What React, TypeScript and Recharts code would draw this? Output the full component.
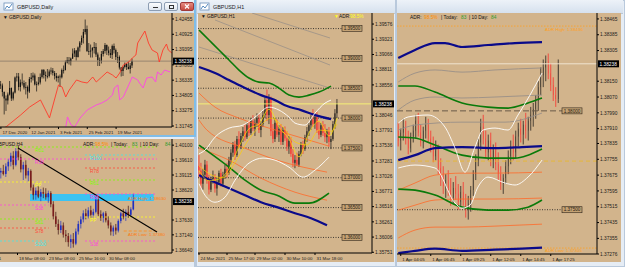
import React from 'react';
import { ComposedChart, Bar, Line, XAxis, YAxis, ReferenceLine, ReferenceDot, ReferenceArea } from 'recharts';

const TAN = '#D2B48C';
const FONT = '"Liberation Sans", Arial, sans-serif';
const LAST = 1.38238;
const LAST_TXT = '1.38238';

// ---------- GBPUSD Daily ----------
const dailyDateIdx = [0, 16, 32, 48, 64];
const dailyDates = ['17 Dec 2020', '12 Jan 2021', '3 Feb 2021', '25 Feb 2021', '19 Mar 2021'];
const dailyPrices = [1.42455, 1.40925, 1.39395, 1.37865, 1.36335, 1.34805, 1.33275, 1.31745];
const dailyOhlc = [
  [1.359, 1.3625, 1.3545, 1.358], [1.358, 1.36, 1.347, 1.3515], [1.3515, 1.352, 1.329, 1.345], [1.345, 1.348, 1.3325, 1.343],
  [1.343, 1.351, 1.339, 1.349], [1.349, 1.3625, 1.348, 1.3555], [1.3555, 1.356, 1.3425, 1.345], [1.345, 1.352, 1.343, 1.351],
  [1.351, 1.367, 1.35, 1.366], [1.366, 1.3705, 1.362, 1.367], [1.367, 1.3705, 1.353, 1.3565], [1.3565, 1.364, 1.352, 1.361],
  [1.361, 1.37, 1.358, 1.3605], [1.3605, 1.363, 1.354, 1.356], [1.356, 1.3615, 1.349, 1.3565], [1.3565, 1.358, 1.345, 1.352],
  [1.352, 1.3665, 1.3505, 1.3645], [1.3645, 1.3705, 1.361, 1.366], [1.366, 1.371, 1.363, 1.368], [1.368, 1.37, 1.358, 1.359],
  [1.359, 1.362, 1.352, 1.3595], [1.3595, 1.3665, 1.358, 1.361], [1.361, 1.37, 1.359, 1.3665], [1.3665, 1.3745, 1.365, 1.3735],
  [1.3735, 1.3745, 1.365, 1.3685], [1.3685, 1.372, 1.362, 1.3675], [1.3675, 1.3745, 1.365, 1.3675], [1.3675, 1.374, 1.366, 1.372],
  [1.372, 1.376, 1.369, 1.373], [1.373, 1.3755, 1.368, 1.3705], [1.3705, 1.3725, 1.364, 1.3675], [1.3675, 1.3705, 1.362, 1.3655],
  [1.3655, 1.368, 1.361, 1.367], [1.367, 1.369, 1.3565, 1.3662], [1.3662, 1.375, 1.365, 1.3735], [1.3735, 1.378, 1.37, 1.3735],
  [1.3735, 1.383, 1.373, 1.381], [1.381, 1.3865, 1.38, 1.3835], [1.3835, 1.3865, 1.379, 1.382], [1.382, 1.386, 1.378, 1.385],
  [1.385, 1.395, 1.3845, 1.39], [1.39, 1.3955, 1.3865, 1.393], [1.393, 1.3935, 1.383, 1.3865], [1.3865, 1.397, 1.386, 1.396],
  [1.396, 1.4025, 1.392, 1.401], [1.401, 1.408, 1.3985, 1.4055], [1.4055, 1.4145, 1.4, 1.4115], [1.4115, 1.424, 1.409, 1.4145],
  [1.4145, 1.418, 1.3915, 1.3925], [1.3925, 1.4005, 1.3885, 1.392], [1.392, 1.399, 1.386, 1.393], [1.393, 1.3965, 1.386, 1.3955],
  [1.3955, 1.4015, 1.39, 1.3965], [1.3965, 1.4005, 1.3865, 1.389], [1.389, 1.391, 1.3775, 1.3835], [1.3835, 1.386, 1.3775, 1.383],
  [1.383, 1.3925, 1.38, 1.3895], [1.3895, 1.3945, 1.387, 1.3925], [1.3925, 1.4005, 1.39, 1.3985], [1.3985, 1.399, 1.3885, 1.393],
  [1.393, 1.397, 1.388, 1.3905], [1.3905, 1.3945, 1.3855, 1.3885], [1.3885, 1.399, 1.3845, 1.3975], [1.3975, 1.4, 1.39, 1.3935],
  [1.3935, 1.395, 1.3835, 1.3865], [1.3865, 1.3915, 1.3805, 1.3865], [1.3865, 1.388, 1.374, 1.376], [1.376, 1.3765, 1.367, 1.3725],
  [1.3725, 1.3775, 1.3675, 1.3765], [1.3765, 1.381, 1.375, 1.3795], [1.3795, 1.3805, 1.3735, 1.3765], [1.3765, 1.382, 1.374, 1.3745],
  [1.3745, 1.3805, 1.37, 1.378], [1.378, 1.385, 1.3755, 1.3825],
];
const dailyRed = [
  [0, 1.314], [3, 1.3168], [11, 1.3285], [16, 1.3365], [22, 1.3435], [27, 1.3255], [32, 1.3585], [34, 1.3565], [36, 1.3465],
  [38, 1.3535], [42, 1.3635], [45, 1.3615], [48, 1.3605], [51, 1.3665], [53, 1.3615], [56, 1.3665], [59, 1.3715], [62, 1.3685],
  [64, 1.3655], [66, 1.3705], [68, 1.3785], [71, 1.3815], [73, 1.3855], [75, 1.3885], [76, 1.4005], [78, 1.4065], [80, 1.4125],
  [82, 1.4005], [84, 1.3935], [87, 1.3905], [88, 1.3815], [90, 1.3935], [92, 1.3995], [93, 1.3935], [95, 1.3905],
];
const dailyPink = [
  [36, 1.316], [37, 1.3265], [39, 1.3185], [41, 1.3165], [44, 1.3255], [48, 1.3335], [51, 1.3365], [53, 1.3385], [56, 1.3405],
  [59, 1.3435], [62, 1.3485], [63, 1.3555], [65, 1.3585], [66, 1.3435], [68, 1.3465], [71, 1.3585], [73, 1.3665], [76, 1.3635],
  [77, 1.3605], [79, 1.3555], [81, 1.3655], [84, 1.3665], [86, 1.3615], [87, 1.3715], [89, 1.3685], [91, 1.3735], [94, 1.3715],
];

// ---------- GBPUSD H4 ----------
const h4DateIdx = [-10.5, 6.5, 18.5, 30.5, 42.5];
const h4Dates = ['17 Mar 2021', '18 Mar 08:00', '23 Mar 08:00', '25 Mar 16:00', '30 Mar 08:00'];
const h4Prices = [1.401, 1.3961, 1.39115, 1.3862, 1.3763, 1.3714, 1.3664];
const h4Ohlc = [
  [1.392, 1.3935, 1.39, 1.3925], [1.3925, 1.3945, 1.391, 1.3915], [1.3915, 1.395, 1.3905, 1.394], [1.394, 1.3965, 1.3925, 1.3955],
  [1.3955, 1.3985, 1.394, 1.3975], [1.3975, 1.399, 1.393, 1.3945], [1.3945, 1.4, 1.394, 1.399], [1.399, 1.401, 1.396, 1.397],
  [1.397, 1.398, 1.392, 1.393], [1.393, 1.3955, 1.3895, 1.3945], [1.3945, 1.396, 1.39, 1.391], [1.391, 1.3935, 1.389, 1.3925],
  [1.3925, 1.393, 1.386, 1.387], [1.387, 1.388, 1.383, 1.3845], [1.3845, 1.387, 1.383, 1.386], [1.386, 1.3875, 1.3835, 1.384],
  [1.384, 1.3865, 1.3825, 1.3855], [1.3855, 1.387, 1.3835, 1.385], [1.385, 1.3868, 1.383, 1.3838], [1.3838, 1.386, 1.382, 1.3852],
  [1.3852, 1.3858, 1.3805, 1.3815], [1.3815, 1.3825, 1.3765, 1.3775], [1.3775, 1.379, 1.374, 1.375], [1.375, 1.3765, 1.3715, 1.373],
  [1.373, 1.376, 1.372, 1.3745], [1.3745, 1.3755, 1.3705, 1.3715], [1.3715, 1.373, 1.369, 1.371], [1.371, 1.372, 1.3675, 1.369],
  [1.369, 1.3715, 1.367, 1.37], [1.37, 1.372, 1.3672, 1.3685], [1.3685, 1.3735, 1.368, 1.3725], [1.3725, 1.376, 1.3715, 1.375],
  [1.375, 1.3775, 1.3735, 1.3765], [1.3765, 1.3795, 1.3755, 1.3785], [1.3785, 1.38, 1.3765, 1.3775], [1.3775, 1.3805, 1.3768, 1.3795],
  [1.3795, 1.381, 1.377, 1.378], [1.378, 1.38, 1.377, 1.379], [1.379, 1.3845, 1.3785, 1.383], [1.383, 1.3838, 1.3775, 1.3782],
  [1.3782, 1.3795, 1.376, 1.377], [1.377, 1.379, 1.3755, 1.3785], [1.3785, 1.3792, 1.3755, 1.3762], [1.3762, 1.3775, 1.3735, 1.3745],
  [1.3745, 1.3755, 1.3712, 1.3725], [1.3725, 1.3745, 1.371, 1.3738], [1.3738, 1.375, 1.3715, 1.3728], [1.3728, 1.3765, 1.3722, 1.376],
  [1.376, 1.379, 1.3752, 1.3785], [1.3785, 1.38, 1.3765, 1.3772], [1.3772, 1.3798, 1.376, 1.379], [1.379, 1.381, 1.377, 1.378],
  [1.378, 1.3805, 1.3772, 1.3798], [1.3798, 1.385, 1.3795, 1.3826],
];
const h4LeftNames = ['R61', 'R38', 'PP', 'S38', 'S61', 'S78', 'S100'];
const h4LeftLevels = [1.40039, 1.39643, 1.38884, 1.38125, 1.37663, 1.37366, 1.36937];
const h4MidNames = ['R100', 'R78', 'R61', 'R38', 'PP', 'S38'];
const h4MidLevels = [1.39775, 1.39346, 1.3895, 1.38488, 1.37729, 1.36937];
const h4Zone = [1.38257, 1.38488];
const h4Trend = [[6.7, 1.40006], [62.3, 1.37234]];
const h4AdrHigh = 1.38356;
const h4AdrLow = 1.37267;

// ---------- GBPUSD H1 ----------
const h1DateIdx = [0, 14, 28, 43, 58];
const h1Dates = ['24 Mar 2021', '25 Mar 17:00', '29 Mar 02:00', '30 Mar 10:00', '31 Mar 18:00'];
const h1Prices = [1.39576, 1.39321, 1.39066, 1.38811, 1.38556, 1.38046, 1.37791, 1.37536, 1.37281, 1.37026, 1.36771, 1.36516, 1.36261, 1.36006, 1.35751];
const h1Rounds = [1.395, 1.39, 1.385, 1.38, 1.375, 1.37, 1.365, 1.36];
const h1Ohlc = [
  [1.372, 1.3738, 1.37, 1.3712], [1.3712, 1.3725, 1.3682, 1.369], [1.369, 1.3715, 1.368, 1.3705], [1.3705, 1.373, 1.3698, 1.3722],
  [1.3722, 1.3728, 1.369, 1.3695], [1.3695, 1.3705, 1.3672, 1.368], [1.368, 1.3702, 1.3676, 1.3698], [1.3698, 1.3712, 1.369, 1.37],
  [1.37, 1.3706, 1.3675, 1.3682], [1.3682, 1.37, 1.367, 1.3692], [1.3692, 1.3712, 1.3688, 1.3708], [1.3708, 1.3715, 1.3685, 1.369],
  [1.369, 1.371, 1.3685, 1.3705], [1.3705, 1.3722, 1.3698, 1.3715], [1.3715, 1.3725, 1.37, 1.3708], [1.3708, 1.3735, 1.3705, 1.373],
  [1.373, 1.3748, 1.3722, 1.3742], [1.3742, 1.376, 1.3735, 1.3755], [1.3755, 1.3762, 1.373, 1.3738], [1.3738, 1.377, 1.3735, 1.3765],
  [1.3765, 1.3778, 1.375, 1.3752], [1.3752, 1.3775, 1.3748, 1.377], [1.377, 1.3785, 1.376, 1.3778], [1.3778, 1.379, 1.3762, 1.3768],
  [1.3768, 1.3792, 1.3765, 1.3788], [1.3788, 1.3795, 1.377, 1.3775], [1.3775, 1.38, 1.3772, 1.3795], [1.3795, 1.3805, 1.3778, 1.3782],
  [1.3782, 1.3798, 1.377, 1.3792], [1.3792, 1.3808, 1.3785, 1.38], [1.38, 1.3806, 1.3775, 1.378], [1.378, 1.3795, 1.3768, 1.379],
  [1.379, 1.3812, 1.3785, 1.3805], [1.3805, 1.3835, 1.38, 1.383], [1.383, 1.3848, 1.3795, 1.3805], [1.3805, 1.384, 1.379, 1.3832],
  [1.3832, 1.3836, 1.377, 1.3778], [1.3778, 1.379, 1.3758, 1.3765], [1.3765, 1.38, 1.376, 1.3792], [1.3792, 1.3798, 1.3768, 1.3772],
  [1.3772, 1.3788, 1.376, 1.3782], [1.3782, 1.379, 1.3755, 1.376], [1.376, 1.3785, 1.3755, 1.378], [1.378, 1.3786, 1.3762, 1.3766],
  [1.3766, 1.3778, 1.3745, 1.3752], [1.3752, 1.377, 1.374, 1.3762], [1.3762, 1.3768, 1.3735, 1.374], [1.374, 1.3748, 1.3718, 1.3725],
  [1.3725, 1.3738, 1.3716, 1.373], [1.373, 1.3742, 1.372, 1.3722], [1.3722, 1.3745, 1.3718, 1.374], [1.374, 1.376, 1.3736, 1.3755],
  [1.3755, 1.3762, 1.374, 1.3748], [1.3748, 1.3772, 1.3745, 1.3768], [1.3768, 1.3785, 1.376, 1.3778], [1.3778, 1.3792, 1.377, 1.3788],
  [1.3788, 1.3805, 1.378, 1.3798], [1.3798, 1.3815, 1.3785, 1.379], [1.379, 1.3808, 1.3782, 1.3802], [1.3802, 1.381, 1.3775, 1.378],
  [1.378, 1.3795, 1.3765, 1.3772], [1.3772, 1.3792, 1.3768, 1.3788], [1.3788, 1.3795, 1.377, 1.3775], [1.3775, 1.379, 1.376, 1.3768],
  [1.3768, 1.3782, 1.3758, 1.3778], [1.3778, 1.3785, 1.3752, 1.376], [1.376, 1.377, 1.3748, 1.3765], [1.3765, 1.3795, 1.3762, 1.379],
  [1.379, 1.3815, 1.3782, 1.3808], [1.3808, 1.3832, 1.38, 1.3824],
];
const h1GreenTop = [[0, 1.39476], [5, 1.39308], [10, 1.3914], [15, 1.38973], [20, 1.38805], [25, 1.38671], [30, 1.38603], [35, 1.38587], [40, 1.38503], [45, 1.38385], [50, 1.38352], [55, 1.38385], [60, 1.38436], [66, 1.38536]];
const h1NavyTop = [[0, 1.38855], [8, 1.38754], [15, 1.38637], [23, 1.38503], [31, 1.38385], [38, 1.38301], [44, 1.38201], [51, 1.38134], [58, 1.3805], [66, 1.37983]];
const h1NavyLow = [[0, 1.37043], [8, 1.36926], [15, 1.36825], [23, 1.36708], [31, 1.3659], [39, 1.36507], [48, 1.36406], [56, 1.36322], [64, 1.36205]];
const h1GreenLow = [[0, 1.37547], [7, 1.37379], [15, 1.37178], [23, 1.36959], [31, 1.36792], [39, 1.36708], [48, 1.36574], [55, 1.36574], [65, 1.36741]];
const h1OrangeA = [[0, 1.38419], [8, 1.38184], [20, 1.37999], [35, 1.37832], [50, 1.37681], [65, 1.3753]];
const h1OrangeB = [[0, 1.37966], [4, 1.37798], [23, 1.37496], [39, 1.37295], [64, 1.37094]];
const h1OrangeC = [[0, 1.37496], [15, 1.37295], [31, 1.36993], [48, 1.36758], [64, 1.36624]];
const h1Grey1 = [[26.5, 1.39761], [65.5, 1.39342]];
const h1Grey2 = [[8, 1.39644], [65.5, 1.38889]];
const h1Grey3 = [[0, 1.39191], [65.5, 1.38503]];
const h1BandUp = [[0, 1.374], [3, 1.37463], [8, 1.37681], [15, 1.37832], [22, 1.37882], [28, 1.38016], [35, 1.38184], [40, 1.38134], [45, 1.38016], [48, 1.37916], [53, 1.37882], [58, 1.38083], [63, 1.38251], [66, 1.38301]];
const h1BandLow = [[0, 1.369], [3, 1.36708], [8, 1.3659], [13, 1.36674], [18, 1.36959], [25, 1.37245], [32, 1.37329], [38, 1.37295], [45, 1.37178], [52, 1.3701], [58, 1.37128], [65, 1.37345]];
const h1Fast = [[0, 1.3712], [5, 1.3695], [10, 1.3698], [15, 1.3715], [20, 1.3752], [25, 1.3782], [30, 1.379], [35, 1.3815], [40, 1.3785], [45, 1.3765], [50, 1.3735], [55, 1.3775], [60, 1.3795], [65, 1.377], [69, 1.38]];
const h1Slow = [[0, 1.372], [6, 1.3705], [12, 1.37], [18, 1.3725], [24, 1.376], [30, 1.3785], [36, 1.38], [42, 1.3785], [48, 1.376], [54, 1.3755], [60, 1.378], [66, 1.3778], [69, 1.379]];

// ---------- GBPUSD M5 (right window) ----------
const m5DateIdx = [1, 13, 25, 37, 49, 61];
const m5Dates = ['1 Apr 04:05', '1 Apr 06:45', '1 Apr 09:25', '1 Apr 12:05', '1 Apr 14:45', '1 Apr 17:25'];
const m5Prices = [1.38465, 1.38385, 1.38305, 1.3815, 1.3807, 1.3799, 1.3791, 1.37835, 1.37755, 1.37675, 1.37595, 1.37515, 1.37435, 1.37355, 1.37276];
const m5Ohlc = [
  [1.379, 1.3794, 1.3782, 1.3785], [1.3785, 1.3791, 1.378, 1.3789], [1.3789, 1.3796, 1.3785, 1.3792], [1.3792, 1.3795, 1.3783, 1.3786],
  [1.3786, 1.379, 1.3778, 1.3781], [1.3781, 1.3789, 1.3779, 1.3787], [1.3787, 1.3793, 1.3784, 1.379], [1.379, 1.3798, 1.3786, 1.3795],
  [1.3795, 1.3799, 1.3787, 1.3789], [1.3789, 1.3793, 1.3782, 1.3784], [1.3784, 1.3792, 1.3781, 1.379], [1.379, 1.3797, 1.3786, 1.3793],
  [1.3793, 1.3796, 1.3784, 1.3786], [1.3786, 1.379, 1.3779, 1.3782], [1.3782, 1.3787, 1.3774, 1.3777], [1.3777, 1.3785, 1.3775, 1.378],
  [1.378, 1.3783, 1.3768, 1.3771], [1.3771, 1.3776, 1.3762, 1.3766], [1.3766, 1.3772, 1.3758, 1.3762], [1.3762, 1.3768, 1.3756, 1.3765],
  [1.3765, 1.377, 1.3757, 1.376], [1.376, 1.3766, 1.3752, 1.3756], [1.3756, 1.3764, 1.3753, 1.3761], [1.3761, 1.3767, 1.3755, 1.3758],
  [1.3758, 1.3763, 1.375, 1.3754], [1.3754, 1.3762, 1.3751, 1.3759], [1.3759, 1.3764, 1.3752, 1.3755], [1.3755, 1.3758, 1.3746, 1.375],
  [1.375, 1.3757, 1.3745, 1.3753], [1.3753, 1.3762, 1.3749, 1.376], [1.376, 1.377, 1.3757, 1.3768], [1.3768, 1.3778, 1.3765, 1.3775],
  [1.3775, 1.3786, 1.3772, 1.3784], [1.3784, 1.3796, 1.378, 1.3792], [1.3792, 1.3798, 1.3783, 1.3786], [1.3786, 1.379, 1.3776, 1.3779],
  [1.3779, 1.3788, 1.3775, 1.3785], [1.3785, 1.3789, 1.3772, 1.3775], [1.3775, 1.3783, 1.3771, 1.378], [1.378, 1.3784, 1.377, 1.3773],
  [1.3773, 1.3779, 1.3765, 1.3768], [1.3768, 1.3772, 1.376, 1.3763], [1.3763, 1.3768, 1.3758, 1.3766], [1.3766, 1.3775, 1.3763, 1.3772],
  [1.3772, 1.378, 1.3768, 1.3777], [1.3777, 1.3785, 1.3773, 1.3782], [1.3782, 1.3788, 1.3775, 1.3779], [1.3779, 1.379, 1.3776, 1.3787],
  [1.3787, 1.3794, 1.3782, 1.3791], [1.3791, 1.3796, 1.3784, 1.3788], [1.3788, 1.3795, 1.3783, 1.3793], [1.3793, 1.3799, 1.3786, 1.379],
  [1.379, 1.3797, 1.3785, 1.3795], [1.3795, 1.3802, 1.379, 1.3798], [1.3798, 1.3804, 1.3792, 1.3801], [1.3801, 1.3808, 1.3796, 1.3805],
  [1.3805, 1.3815, 1.38, 1.3812], [1.3812, 1.3822, 1.3808, 1.3818], [1.3818, 1.3826, 1.3812, 1.3822], [1.3822, 1.3828, 1.3815, 1.3825],
  [1.3825, 1.3829, 1.3816, 1.3819], [1.3819, 1.3824, 1.381, 1.3813], [1.3813, 1.3817, 1.3805, 1.3808], [1.3808, 1.3812, 1.3802, 1.3806],
  [1.3806, 1.3826, 1.3804, 1.3824],
];
const m5NavyTop = [[0, 1.38267], [6.7, 1.38308], [14.7, 1.38343], [18.7, 1.38343], [25.5, 1.38323], [35.9, 1.38333], [46.7, 1.38343], [57.5, 1.38348]];
const m5GreyA = [[0, 1.38146], [6.7, 1.38191], [14.7, 1.38207], [25.5, 1.38196], [38.7, 1.38207], [57.5, 1.38217]];
const m5GreenTop = [[0, 1.38126], [6.7, 1.38126], [14.7, 1.38095], [25.5, 1.3804], [35.9, 1.38019], [43.9, 1.38014], [51.9, 1.3804], [57.5, 1.38065]];
const m5GreyB = [[0, 1.38004], [6.7, 1.38055], [14.7, 1.3807], [25.5, 1.38065], [38.7, 1.3807], [57.5, 1.3808]];
const m5GreyC = [[0, 1.37903], [6.7, 1.37928], [25.5, 1.37943], [42.7, 1.37943], [57.5, 1.37989]];
const m5NavyMid = [[0, 1.37751], [6.7, 1.37776], [14.7, 1.37812], [25.5, 1.37817], [38.7, 1.37812], [49.5, 1.37817], [57.5, 1.37822]];
const m5GreenMid = [[0, 1.37868], [6.7, 1.37863], [14.7, 1.37827], [25.5, 1.37776], [35.9, 1.37761], [46.7, 1.37761], [51.9, 1.37776], [57.5, 1.37807]];
const m5OrangeA = [[0, 1.37599], [6.7, 1.37635], [14.7, 1.37675], [25.5, 1.37685], [38.7, 1.37685], [57.5, 1.3769]];
const m5GreenLow = [[0, 1.37604], [6.7, 1.37599], [14.7, 1.37574], [25.5, 1.37513], [35.9, 1.37498], [43.9, 1.37498], [51.9, 1.37513], [57.5, 1.37549]];
const m5OrangeB = [[0, 1.37498], [6.7, 1.37523], [14.7, 1.37549], [25.5, 1.37554], [38.7, 1.37554], [57.5, 1.37559]];
const m5OrangeC = [[0, 1.37357], [6.7, 1.37397], [14.7, 1.37412], [25.5, 1.37412], [38.7, 1.37417], [57.5, 1.37427]];
const m5NavyLow = [[0, 1.3728], [6.7, 1.37292], [14.7, 1.37303], [25.5, 1.37292], [38.7, 1.37298], [49.5, 1.37303], [57.5, 1.37308]];
const m5BandUp = [[0, 1.37938], [3.9, 1.37969], [11.9, 1.37979], [18.7, 1.37918], [22.7, 1.37812], [26.7, 1.3769], [30.7, 1.37817], [33.9, 1.37903], [38.7, 1.37913], [43.9, 1.37903], [47.9, 1.37979], [52.7, 1.3808], [57.5, 1.38191]];
const m5BandLow = [[0, 1.37711], [6.7, 1.37726], [14.7, 1.37711], [22.7, 1.37534], [25.5, 1.37508], [28.7, 1.37523], [31.9, 1.37615], [35.9, 1.37665], [42.7, 1.37635], [46.7, 1.37625], [51.9, 1.37665], [57.5, 1.37751]];
const m5Rounds = [1.38, 1.375];
const m5Open = 1.37746;
const m5AdrHigh = 1.38429;
const m5AdrLow = 1.37306;

const toCandles = (rows: number[][]) => rows.map(([o, h, l, c], i) => ({ i, o, h, l, c, range: [l, h] }));
const toPts = (rows: number[][]) => rows.map(([i, p]) => ({ i, p }));

const candleShape = (upFill: string, downFill: string, upWick: string, downWick: string) => (props: any) => {
  const { x, y, width, height, payload } = props;
  if (!payload || !isFinite(y) || !isFinite(height)) return <g />;
  const top = Math.min(y, y + height);
  const span = Math.abs(height);
  const { o, h, l, c } = payload;
  const at = (v: number) => (h === l ? top : top + ((h - v) / (h - l)) * span);
  const bt = at(Math.max(o, c));
  const bb = at(Math.min(o, c));
  const mid = x + width / 2;
  const up = c >= o;
  return (
    <g>
      <line x1={mid} x2={mid} y1={top} y2={top + span} stroke={up ? upWick : downWick} strokeWidth={0.7} />
      <rect x={x} y={bt} width={width} height={Math.max(0.8, bb - bt)} fill={up ? upFill : downFill} />
    </g>
  );
};

const PriceTick = (props: any) => {
  const { x, y, payload } = props;
  return (
    <text x={x} y={y + 1.7} fontSize={4.8} fontFamily={FONT} fill="#1b1b1b" textAnchor="start">
      {Number(payload.value).toFixed(5)}
    </text>
  );
};

const dateTick = (idx: number[], labels: string[]) => (props: any) => {
  const { x, y, payload } = props;
  const k = idx.indexOf(payload.value);
  return (
    <text x={x + 1.5} y={y + 3.3} fontSize={4.4} fontFamily={FONT} fill="#1b1b1b" textAnchor="start">
      {k >= 0 ? labels[k] : ''}
    </text>
  );
};

const textShape = (text: string, color: string, dy = 1.7, size = 4.8) => (p: any) => (
  <text x={p.cx} y={p.cy + dy} fill={color} fontSize={size} fontFamily={FONT} textAnchor="start">{text}</text>
);

const roundBox = (text: string) => (p: any) => (
  <g>
    <rect x={p.cx - 10} y={p.cy - 3} width={20} height={6} fill="#C4A274" stroke="#2e251b" strokeWidth={0.6} />
    <text x={p.cx} y={p.cy + 1.7} textAnchor="middle" fontSize={4.6} fontFamily={FONT} fill="#241b12">{text}</text>
  </g>
);

const lastBox = (p: any) => (
  <g>
    <rect x={p.cx + 1} y={p.cy - 3.5} width={21} height={7} fill="#000" />
    <text x={p.cx + 2.5} y={p.cy + 1.8} fontSize={4.8} fontFamily={FONT} fill="#fff">{LAST_TXT}</text>
  </g>
);

const series = (key: string, rows: number[][], color: string, width: number, smooth = true) => (
  <Line key={key} data={toPts(rows)} dataKey="p" type={smooth ? 'monotone' : 'linear'} stroke={color} strokeWidth={width}
    dot={false} activeDot={false} isAnimationActive={false} legendType="none" />
);

const seg = (key: string, x1: number, x2: number, y: number, color: string, dash: string, w = 0.8) => (
  <ReferenceLine key={key} segment={[{ x: x1, y }, { x: x2, y }]} stroke={color} strokeDasharray={dash} strokeWidth={w} />
);

const pivotColor = (n: string) =>
  n === 'PP' ? '#FFFF20' : n.endsWith('38') ? '#FF44DD' : n.endsWith('61') ? '#7CFC00' : n.endsWith('78') ? '#FF4A3A' : '#40E8E8';

type PaneProps = {
  width: number; height: number; xDomain: number[]; yDomain: number[]; yTicks: number[];
  xTicks: number[]; xLabels: string[]; yw: number; xh: number; data: any[]; barSize: number;
  shape: any; before?: React.ReactNode[]; after?: React.ReactNode[];
};

function Pane(p: PaneProps) {
  return (
    <ComposedChart width={p.width} height={p.height} data={p.data} margin={{ top: 0, right: 0, bottom: 0, left: 0 }}>
      <XAxis type="number" dataKey="i" domain={p.xDomain} ticks={p.xTicks} interval={0} height={p.xh} tickSize={2}
        tick={dateTick(p.xTicks, p.xLabels)} axisLine={{ stroke: '#000' }} tickLine={{ stroke: '#000' }} allowDataOverflow />
      <YAxis orientation="right" type="number" domain={p.yDomain} ticks={p.yTicks} interval={0} width={p.yw} tickSize={2}
        tickMargin={1} tick={<PriceTick />} axisLine={{ stroke: '#000' }} tickLine={{ stroke: '#000' }} allowDataOverflow />
      {p.before}
      <Bar dataKey="range" barSize={p.barSize} shape={p.shape} isAnimationActive={false} legendType="none" />
      {p.after}
      <ReferenceDot x={p.xDomain[1]} y={LAST} r={0} ifOverflow="visible" shape={lastBox} />
    </ComposedChart>
  );
}

const btn = (left: number, glyph: string, close: boolean) => (
  <div style={{
    position: 'absolute', left, top: 2, width: 14, height: 9, boxSizing: 'border-box',
    border: `1px solid ${close ? '#a03a3a' : '#8d9db2'}`, borderRadius: 2,
    background: close ? 'linear-gradient(#e58a80,#c64a40)' : 'linear-gradient(#fbfcfe,#dfe6ef)',
  }}>
    {glyph === 'min' && <div style={{ position: 'absolute', left: 4, top: 4, width: 5, height: 1, background: '#333' }} />}
    {glyph === 'max' && <div style={{ position: 'absolute', left: 4, top: 1.5, width: 5, height: 4, border: '1px solid #333', boxSizing: 'border-box' }} />}
    {glyph === 'close' && (
      <svg width={12} height={7} style={{ position: 'absolute', left: 0, top: 0 }}>
        <path d="M4 1.5 L8 5.5 M8 1.5 L4 5.5" stroke={close ? '#fff' : '#333'} strokeWidth={1.1} />
      </svg>
    )}
  </div>
);

const titleBar = (left: number, width: number, btnLeft: number, active: boolean) => (
  <div style={{ position: 'absolute', left, top: 0, width, height: 13, background: 'linear-gradient(#edf2f8,#d6e1ee)', borderBottom: '1px solid #b8c7d8' }}>
    {btn(btnLeft, 'min', false)}
    {btn(btnLeft + 16, 'max', false)}
    {btn(btnLeft + 32, 'close', active)}
  </div>
);

export default function App() {
  const dailyData = toCandles(dailyOhlc);
  const h4Data = toCandles(h4Ohlc);
  const h1Data = toCandles(h1Ohlc);
  const m5Data = toCandles(m5Ohlc);

  const h4Before: React.ReactNode[] = [
    <ReferenceArea key="zone" x1={11.5} x2={61} y1={h4Zone[0]} y2={h4Zone[1]} fill="#3CC3F2" fillOpacity={1} stroke="none" />,
    ...h4LeftLevels.map((v, k) => seg('hl' + k, -0.5, k < 2 ? 62.3 : 19, v, pivotColor(h4LeftNames[k]), '2 2')),
    ...h4MidLevels.map((v, k) => seg('hm' + k, 33.5, 62.3, v, pivotColor(h4MidNames[k]), '2 2')),
    seg('adrl', 49, 62.3, h4AdrLow, '#FF8C1A', '3 2'),
  ];
  const h4After: React.ReactNode[] = [
    <ReferenceLine key="trend" segment={[{ x: h4Trend[0][0], y: h4Trend[0][1] }, { x: h4Trend[1][0], y: h4Trend[1][1] }]} stroke="#000" strokeWidth={1.1} />,
    ...h4LeftLevels.map((v, k) => <ReferenceDot key={'tl' + k} x={13.5} y={v} r={0} shape={textShape(h4LeftNames[k], pivotColor(h4LeftNames[k]), 5.2)} />),
    ...h4MidLevels.map((v, k) => <ReferenceDot key={'tm' + k} x={35.5} y={v} r={0} shape={textShape(h4MidNames[k], pivotColor(h4MidNames[k]), 5.2)} />),
    <ReferenceDot key="ah" x={50.7} y={h4AdrHigh} r={0} shape={textShape('ADR High: 1.38630', '#FF7A10', 1.7, 4.4)} />,
    <ReferenceDot key="al" x={50.7} y={h4AdrLow} r={0} shape={textShape('ADR Low: 1.37380', '#FF7A10', 4.8, 4.4)} />,
  ];

  const h1Before: React.ReactNode[] = [
    ...h1Rounds.map((v, k) => seg('r' + k, -0.5, 71.5, v, '#1a1a1a', '1 1.5')),
    <ReferenceLine key="last" y={LAST} stroke="#FFFF70" strokeWidth={0.8} />,
  ];
  const h1After: React.ReactNode[] = [
    series('g1', h1Grey1, '#9a9088', 0.8, false),
    series('g2', h1Grey2, '#9a9088', 0.8, false),
    series('g3', h1Grey3, '#9a9088', 0.8, false),
    series('oa', h1OrangeA, '#FF6A2A', 0.8),
    series('ob', h1OrangeB, '#FF6A2A', 0.8),
    series('oc', h1OrangeC, '#FF6A2A', 0.8),
    series('gt', h1GreenTop, '#0A7A0A', 1.6),
    series('gl', h1GreenLow, '#0A7A0A', 1.6),
    series('nt', h1NavyTop, '#0A0A8A', 2.2),
    series('nl', h1NavyLow, '#0A0A8A', 2.2),
    series('bu', h1BandUp, '#FFFFFF', 0.9),
    series('bl', h1BandLow, '#FFFFFF', 0.9),
    series('f1', h1Fast, '#FFE800', 0.7),
    series('f2', h1Slow, '#FFD000', 0.7),
    ...h1Rounds.map((v, k) => <ReferenceDot key={'rb' + k} x={76.5} y={v} r={0} shape={roundBox(v.toFixed(5))} />),
  ];

  const m5Before: React.ReactNode[] = [
    seg('adrh', -0.5, 79.5, m5AdrHigh, '#FFA020', '1.5 1.5'),
    seg('adrl', -0.5, 79.5, m5AdrLow, '#FFA020', '1.5 1.5'),
    seg('open', -0.5, 79.5, m5Open, '#E8B830', '4 3', 0.9),
    seg('r0', -0.5, 65.5, m5Rounds[0], '#6a5a48', '6 3', 1),
    seg('r1', -0.5, 65.5, m5Rounds[1], '#1a1a1a', '1 1.5'),
    <ReferenceLine key="last" y={LAST} stroke="#EFE3CF" strokeWidth={1} />,
  ];
  const m5After: React.ReactNode[] = [
    series('ga', m5GreyA, '#9a9088', 0.9),
    series('gb', m5GreyB, '#9a9088', 0.9),
    series('gc', m5GreyC, '#9a9088', 0.9),
    series('oa', m5OrangeA, '#FF6A2A', 0.8),
    series('ob', m5OrangeB, '#FF6A2A', 0.8),
    series('oc', m5OrangeC, '#FF6A2A', 0.8),
    series('gt', m5GreenTop, '#0A7A0A', 1.6),
    series('gm', m5GreenMid, '#0A7A0A', 1.6),
    series('gl', m5GreenLow, '#0A7A0A', 1.6),
    series('nt', m5NavyTop, '#0A0A8A', 2.2),
    series('nm', m5NavyMid, '#0A0A8A', 2.2),
    series('nl', m5NavyLow, '#0A0A8A', 2.2),
    series('bu', m5BandUp, '#FFFFFF', 0.9),
    series('bl', m5BandLow, '#FFFFFF', 0.9),
    ...m5Rounds.map((v, k) => <ReferenceDot key={'rb' + k} x={69.5} y={v} r={0} shape={roundBox(v.toFixed(5))} />),
    <ReferenceDot key="ah" x={58.7} y={m5AdrHigh} r={0} shape={textShape('ADR High: 1.38436', '#FFA020', 4.6, 4.4)} />,
    <ReferenceDot key="al" x={58.7} y={m5AdrLow} r={0} shape={textShape('ADR Low: 1.37305', '#FFA020', 4.0, 4.4)} />,
  ];

  const T = (x: number, y: number, s: string, color = '#111', size = 4.8) => (
    <text x={x} y={y} fontSize={size} fontFamily={FONT} fill={color}>{s}</text>
  );

  return (
    <div style={{ position: 'fixed', left: 0, top: 0, width: 625, height: 267, overflow: 'hidden', background: '#dfe7f1', fontFamily: FONT }}>
      {/* daily window */}
      <div style={{ position: 'absolute', left: 0, top: 0, width: 196, height: 137, background: '#cfe4f5', borderRight: '2px solid #7fbde8', borderBottom: '2px solid #7fbde8', boxSizing: 'border-box' }} />
      {titleBar(0, 194, 148, true)}
      <div style={{ position: 'absolute', left: 0, top: 13, width: 194, height: 122, background: TAN }}>
        <Pane width={194} height={122} xDomain={[-0.5, 95.06]} yDomain={[1.31645, 1.43055]} yTicks={dailyPrices}
          xTicks={dailyDateIdx} xLabels={dailyDates} yw={22} xh={8} data={dailyData} barSize={1.2}
          shape={candleShape('#111', '#111', '#111', '#111')}
          before={[<ReferenceLine key="last" y={LAST} stroke="#8a7b68" strokeWidth={0.8} />]}
          after={[series('red', dailyRed, '#FF3A2A', 0.9, false), series('pink', dailyPink, '#FF44E6', 0.9, false)]} />
      </div>

      {/* H4 window */}
      <div style={{ position: 'absolute', left: 0, top: 137, width: 196, height: 130, background: '#e6edf5', borderRight: '2px solid #b9c9dc', boxSizing: 'border-box' }} />
      <div style={{ position: 'absolute', left: 0, top: 139, width: 194, height: 123, background: TAN }}>
        <Pane width={194} height={123} xDomain={[-0.5, 68.3]} yDomain={[1.36541, 1.40303]} yTicks={h4Prices}
          xTicks={h4DateIdx} xLabels={h4Dates} yw={22} xh={9} data={h4Data} barSize={1.6}
          shape={candleShape('#1f2fc0', '#7a1c1c', '#1f2fc0', '#3a1010')} before={h4Before} after={h4After} />
      </div>

      {/* H1 window */}
      <div style={{ position: 'absolute', left: 196, top: 0, width: 200, height: 267, background: '#e6edf5', border: '1px solid #b9c9dc', boxSizing: 'border-box' }} />
      {titleBar(197, 198, 347, false)}
      <div style={{ position: 'absolute', left: 198, top: 13, width: 196, height: 249, background: TAN }}>
        <Pane width={196} height={249} xDomain={[-0.5, 86.5]} yDomain={[1.35739, 1.39761]} yTicks={h1Prices}
          xTicks={h1DateIdx} xLabels={h1Dates} yw={22} xh={9} data={h1Data} barSize={1.2}
          shape={candleShape('#111', '#FF2020', '#111', '#FF2020')} before={h1Before} after={h1After} />
      </div>

      {/* right window */}
      <div style={{ position: 'absolute', left: 396, top: 0, width: 229, height: 267, background: '#e6edf5', border: '1px solid #b9c9dc', boxSizing: 'border-box' }} />
      {titleBar(397, 226, 570, false)}
      <div style={{ position: 'absolute', left: 397, top: 13, width: 224, height: 249, background: TAN }}>
        <Pane width={224} height={249} xDomain={[-0.5, 79.5]} yDomain={[1.37276, 1.38495]} yTicks={m5Prices}
          xTicks={m5DateIdx} xLabels={m5Dates} yw={24} xh={8} data={m5Data} barSize={1.5}
          shape={candleShape('#111', '#FF2020', '#111', '#FF2020')} before={m5Before} after={m5After} />
      </div>

      {/* captions */}
      <svg width={625} height={267} style={{ position: 'absolute', left: 0, top: 0, pointerEvents: 'none' }}>
        <rect x={4} y={3} width={9} height={7} fill="#fff" stroke="#6b8fb8" strokeWidth={0.8} />
        <polyline points="5,9 7,6 9,8 12,4" fill="none" stroke="#2f6fb0" strokeWidth={0.8} />
        {T(17, 8.5, 'GBPUSD,Daily', '#222', 5.4)}
        <rect x={200} y={3} width={9} height={7} fill="#fff" stroke="#6b8fb8" strokeWidth={0.8} />
        <polyline points="201,9 203,6 205,8 208,4" fill="none" stroke="#2f6fb0" strokeWidth={0.8} />
        {T(213, 8.5, 'GBPUSD,H1', '#222', 5.4)}

        {T(3, 19, '▼ GBPUSD,Daily')}
        {T(-5, 146, 'GBPUSD,H4')}
        {T(83, 146, 'ADR:')}
        {T(95, 146, '98.5%', '#FF8C00')}
        {T(111, 146, '| Today:')}
        {T(132, 146, '83', '#2E9A2E')}
        {T(140, 146, '| 10 Day:')}
        {T(165, 146, '84', '#2E9A2E')}

        {T(201, 18, '▼ GBPUSD,H1')}
        {T(334, 18, '▼', '#FFFF20')}
        {T(339, 18, 'ADR:')}
        {T(350, 18, '98.5%', '#FFFF20')}

        {T(410, 19, 'ADR:')}
        {T(424, 19, '98.5%', '#FF8C00')}
        {T(441, 19, '| Today:')}
        {T(461, 19, '83', '#2E9A2E')}
        {T(469, 19, '| 10 Day:')}
        {T(491, 19, '84', '#2E9A2E')}
      </svg>
    </div>
  );
}
